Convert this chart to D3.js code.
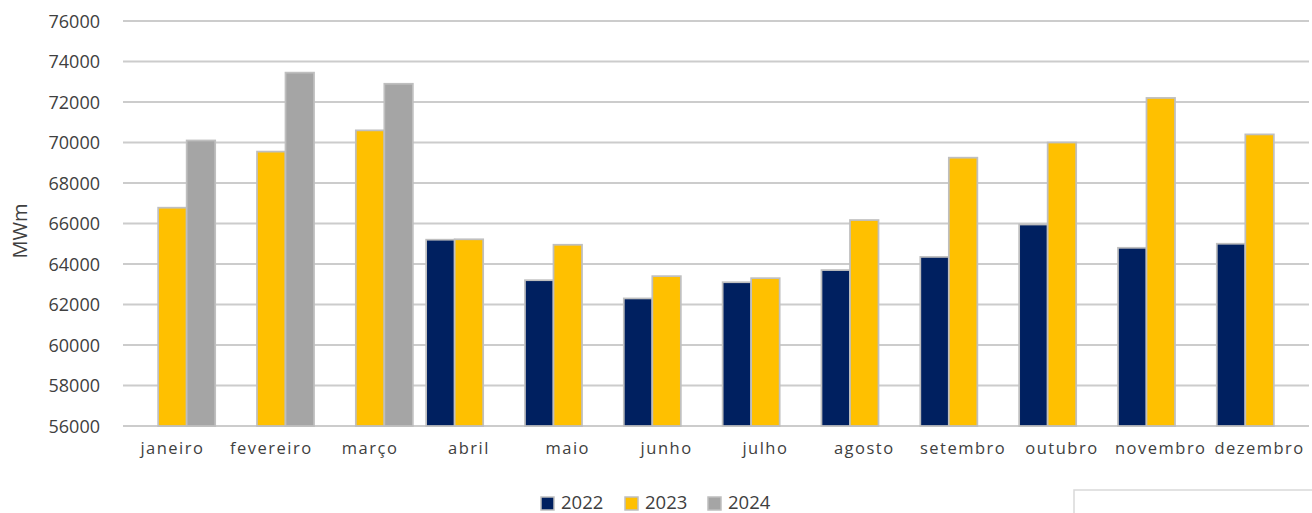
<!DOCTYPE html>
<html>
<head>
<meta charset="utf-8">
<script src="https://cdn.jsdelivr.net/npm/d3@7"></script>
<style>
  body { margin: 0; background: #ffffff; }
  .tick text { font-family: "Open Sans", sans-serif; fill: #404040; }
</style>
</head>
<body>
<script>
//data
var months = ["janeiro", "fevereiro", "março", "abril", "maio", "junho", "julho", "agosto", "setembro", "outubro", "novembro", "dezembro"];
var years = ["2022", "2023", "2024"];
var values2022 = [null, null, null, 65200, 63200, 62300, 63100, 63700, 64350, 65950, 64800, 65000];
var values2023 = [66780, 69550, 70600, 65220, 64950, 63400, 63300, 66170, 69250, 70000, 72200, 70400];
var values2024 = [70100, 73450, 72900, null, null, null, null, null, null, null, null, null];
var yTicks = [56000, 58000, 60000, 62000, 64000, 66000, 68000, 70000, 72000, 74000, 76000];
var colors = ["#002060", "#FFC000", "#A5A5A5"];

//set up chart
function setChart(){
    var width = 1312,
        height = 513,
        left = 123,
        right = 1309,
        top = 21,
        bottom = 426;

    var svg = d3.select("body")
        .append("svg")
        .attr("width", width)
        .attr("height", height);

    var series = [values2022, values2023, values2024];

    //scales
    var x0 = d3.scaleBand()
        .domain(months)
        .range([left, right])
        .padding(0);

    var x1 = d3.scaleBand()
        .domain(years)
        .range([0, x0.bandwidth()])
        .paddingInner(0)
        .paddingOuter(0.233);

    var y = d3.scaleLinear()
        .domain([56000, 76000])
        .range([bottom, top]);

    //gridlines
    svg.append("g")
        .selectAll("line")
        .data(yTicks)
        .enter()
        .append("line")
        .attr("x1", left)
        .attr("x2", right)
        .attr("y1", function(d){ return y(d); })
        .attr("y2", function(d){ return y(d); })
        .attr("stroke", "#CCCCCC")
        .attr("stroke-width", 2);

    //y axis labels
    var yAxis = d3.axisLeft(y)
        .tickValues(yTicks)
        .tickSize(0)
        .tickPadding(23)
        .tickFormat(d3.format("d"));

    var ya = svg.append("g")
        .attr("transform", "translate(" + left + ",0)")
        .call(yAxis);
    ya.select(".domain").remove();
    ya.selectAll("text")
        .style("font-size", "18px")
        .attr("dy", "0.34em");

    //bars
    var bars = [];
    months.forEach(function(m, i){
        years.forEach(function(yr, s){
            var v = series[s][i];
            if (v != null) bars.push({month: m, year: yr, s: s, value: v});
        });
    });

    svg.append("g")
        .selectAll("rect")
        .data(bars)
        .enter()
        .append("rect")
        .attr("x", function(d){ return x0(d.month) + x1(d.year); })
        .attr("width", x1.bandwidth())
        .attr("y", function(d){ return y(d.value); })
        .attr("height", function(d){ return y(56000) - y(d.value); })
        .attr("fill", function(d){ return colors[d.s]; })
        .attr("stroke", "#BFBFBF")
        .attr("stroke-width", 1.75);

    //x axis labels
    var xAxis = d3.axisBottom(x0)
        .tickSize(0)
        .tickPadding(16);

    var xa = svg.append("g")
        .attr("transform", "translate(0," + bottom + ")")
        .call(xAxis);
    xa.select(".domain").remove();
    xa.selectAll("text")
        .style("font-size", "16.5px")
        .style("letter-spacing", "1.5px");

    //y axis title
    svg.append("text")
        .attr("transform", "translate(27,231) rotate(-90)")
        .attr("text-anchor", "middle")
        .style("font-family", "Open Sans, sans-serif")
        .style("font-size", "20px")
        .style("fill", "#404040")
        .text("MWm");

    //legend
    var legendX = [541, 625, 708];
    var legend = svg.append("g")
        .selectAll("g")
        .data(years)
        .enter()
        .append("g")
        .attr("transform", function(d, i){ return "translate(" + legendX[i] + ",497)"; });

    legend.append("rect")
        .attr("width", 13)
        .attr("height", 13)
        .attr("fill", function(d, i){ return colors[i]; })
        .attr("stroke", "#BFBFBF")
        .attr("stroke-width", 1.5);

    legend.append("text")
        .attr("x", 20)
        .attr("y", 12)
        .style("font-family", "Open Sans, sans-serif")
        .style("font-size", "18.5px")
        .style("fill", "#404040")
        .text(function(d){ return d; });

    //empty box at bottom right
    svg.append("rect")
        .attr("x", 1074)
        .attr("y", 490)
        .attr("width", 260)
        .attr("height", 40)
        .attr("fill", "none")
        .attr("stroke", "#D9D9D9")
        .attr("stroke-width", 1.5);
}

setChart();
</script>
</body>
</html>
